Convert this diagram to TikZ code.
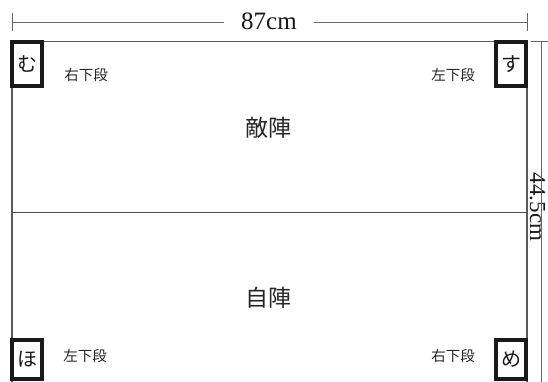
\documentclass[tikz,border=0pt]{standalone}
\usepackage{fontspec}
\setmainfont{Liberation Serif}
\newfontfamily\jpfont{Noto Sans CJK JP}
\begin{document}
\begin{tikzpicture}[x=1pt,y=-1pt,
  board/.style={draw=black!65, line width=1.1pt},
  midline/.style={draw=black!70, line width=1.8pt},
  dimline/.style={draw=black!60, line width=1pt},
  corner/.style={draw=black!90, line width=4pt, fill=white, minimum width=30pt, inner sep=0pt, text=black!90, font=\jpfont\fontsize{20}{20}\selectfont},
  toplabel/.style={font=\jpfont\fontsize{14.5}{14.5}\selectfont, text=black!85},
  sidelabel/.style={font=\jpfont\fontsize{23}{23}\selectfont, text=black!85},
  dimtext/.style={font=\fontsize{25}{25}\selectfont, text=black!90, inner ysep=0pt}]
\useasboundingbox (0,0) rectangle (548,381);
% board
\coordinate (TL) at (12,41.5);
\coordinate (TR) at (527,41.5);
\coordinate (BL) at (12,395);
\coordinate (BR) at (527,395);
\coordinate (ML) at (12,212.5);
\coordinate (MR) at (527,212.5);
\draw[board] (BL) -- (TL) -- (TR) -- (BR);
\draw[midline] (ML) -- (MR);
% corner boxes
\node[corner, minimum height=44pt] (mu) at (27,64) {む};
\node[corner, minimum height=44pt] (su) at (511,64) {す};
\node[corner, minimum height=39pt] (ho) at (27,359.5) {ほ};
\node[corner, minimum height=39pt] (me) at (511,359.5) {め};
% labels
\node[toplabel] (l1) at (86,75) {右下段};
\node[toplabel] (l2) at (453,75) {左下段};
\node[toplabel] (l3) at (85,356) {左下段};
\node[toplabel] (l4) at (453,356) {右下段};
\node[sidelabel] (enemy) at (268,128) {敵陣};
\node[sidelabel] (self) at (268,298) {自陣};
% width dimension
\coordinate (wa1) at (12,13);
\coordinate (wa2) at (12,31);
\coordinate (wb1) at (527,13);
\coordinate (wb2) at (527,31);
\coordinate (wl) at (12,22.7);
\coordinate (wr) at (527,22.7);
\node[dimtext, inner xsep=17pt] (w) at (269,21) {87cm};
\draw[dimline] (wa1) -- (wa2);
\draw[dimline] (wb1) -- (wb2);
\draw[dimline] (wl) -- (wl -| w.west);
\draw[dimline] (w.east |- wr) -- (wr);
% height dimension
\coordinate (ht1) at (531,41.5);
\coordinate (ht2) at (552,41.5);
\coordinate (hv1) at (541,41.5);
\coordinate (hv2) at (541,395);
\node[dimtext, rotate=-90, inner xsep=5pt, font=\fontsize{23}{23}\selectfont] (h) at (537.5,207) {44.5cm};
\draw[dimline] (ht1) -- (ht2);
\draw[dimline] (hv1) -- (hv1 |- h.east);
\draw[dimline] (hv2 |- h.west) -- (hv2);
\end{tikzpicture}
\end{document}
